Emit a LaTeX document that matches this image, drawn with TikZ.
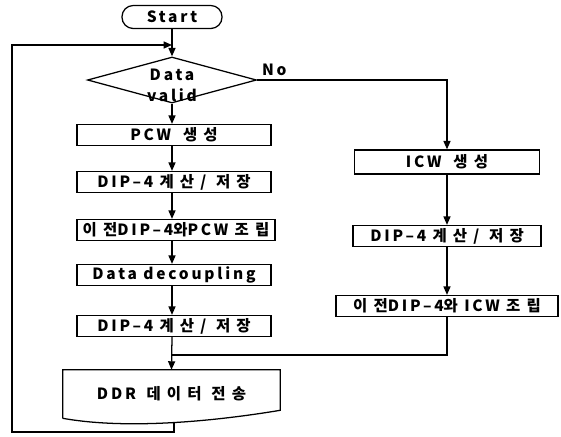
\documentclass[tikz,border=0pt]{standalone}
\usepackage{fontspec}
\setmainfont{Noto Sans CJK KR}[LetterSpace=18]
\newfontfamily\hgfont{Noto Sans CJK KR}[LetterSpace=40]
\newcommand{\hw}[1]{{\hgfont #1}}
\usepackage{tikz}
\usetikzlibrary{shapes, shapes.geometric, arrows.meta, positioning, calc}

\begin{document}
\begin{tikzpicture}[x=0.025cm, y=-0.025cm,
    stepbox/.style={draw, line width=0.9pt, minimum height=0.525cm, inner sep=0pt, font=\fontsize{11}{13}\selectfont\bfseries},
    flow/.style={line width=0.9pt, -{Triangle[length=6pt, width=5pt]}},
    line/.style={line width=0.9pt}]
  \useasboundingbox (0,0) rectangle (561,436);

  % Start and test
  \node[stepbox, rounded corners=8pt, minimum width=2.5cm, minimum height=0.575cm] (start) at (172, 17) {Start};
  \node[draw, diamond, line width=0.9pt, minimum width=4.225cm, minimum height=1.15cm, inner sep=0pt] (dv) at (172, 80) {};
  \node[font=\fontsize{11}{15}\selectfont\bfseries, align=center, inner sep=0pt] (dvtext) at (172, 85) {Data\\valid};
  \coordinate (join) at (172, 45);

  % PCW branch
  \node[stepbox, minimum width=4.85cm] (pcw) at (174, 135) {PCW\hspace{4pt} \hw{생성}};
  \node[stepbox, minimum width=4.85cm] (dipa) at (174, 182) {DIP–4 \hw{계산/ 저장}};
  \node[stepbox, minimum width=4.95cm] (asma) at (176, 230) {\hw{이전}DIP–4\hw{와}PCW \hw{조립}};
  \node[stepbox, minimum width=4.85cm] (dec) at (174, 275) {Data decoupling};
  \node[stepbox, minimum width=4.85cm] (dipb) at (174, 326) {DIP–4 \hw{계산/ 저장}};

  % ICW branch
  \node[stepbox, minimum width=4.625cm, minimum height=0.6cm] (icw) at (447, 162) {ICW\hspace{4pt} \hw{생성}};
  \node[stepbox, minimum width=4.7cm] (dipc) at (447, 236) {DIP–4 \hw{계산/ 저장}};
  \node[stepbox, minimum width=5.55cm] (asmb) at (447, 306) {\hw{이전}DIP–4\hw{와} ICW \hw{조립}};
  \coordinate (merge) at (172, 355);

  % DDR transfer (document shape)
  \node[minimum width=5.425cm, minimum height=1.2cm, inner sep=0pt, font=\fontsize{11}{13}\selectfont\bfseries] (ddr) at (171.5, 394) {DDR\hspace{3pt} \hw{데이터 전송}};
  \draw[line] (ddr.south west) -- (ddr.north west) -- (ddr.north east) -- ($(ddr.south east)+(0,-8)$)
    .. controls ($(ddr.south east)+(-60,2)$) and ($(ddr.south west)+(67,12)$) .. coordinate[pos=0.5] (wave) (ddr.south west);
  \coordinate (loopbl) at (12, 432);

  % connectors
  \draw[flow] (start) -- (dv);
  \draw[flow] (dv) -- (dv |- pcw.north);
  \draw[flow] (dv |- pcw.south) -- (dv |- dipa.north);
  \draw[flow] (dv |- dipa.south) -- (dv |- asma.north);
  \draw[flow] (dv |- asma.south) -- (dv |- dec.north);
  \draw[flow] (dv |- dec.south) -- (dv |- dipb.north);
  \draw[flow] (dv |- dipb.south) -- (ddr.north);
  \draw[flow] (dv.east) -| node[pos=0.045, above=-1pt, font=\fontsize{11}{13}\selectfont\bfseries] {No} (icw);
  \draw[flow] (icw) -- (dipc);
  \draw[flow] (dipc) -- (asmb);
  \draw[line] (asmb) |- (merge);
  \draw[flow] (wave) |- (loopbl) |- (join);
\end{tikzpicture}
\end{document}
